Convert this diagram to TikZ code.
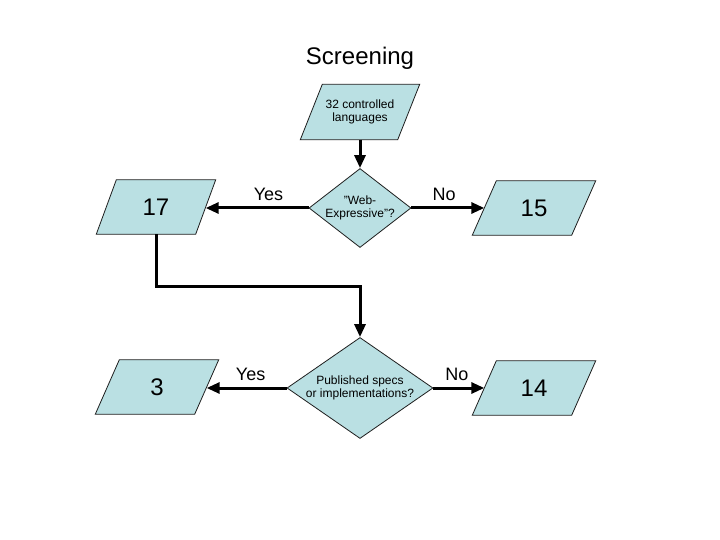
\documentclass[tikz,border=0pt]{standalone}
\usepackage{fontspec}
\setmainfont{Liberation Sans}
\usetikzlibrary{shapes.geometric,arrows.meta,backgrounds}
\definecolor{boxfill}{RGB}{186,224,227}
\definecolor{boxline}{RGB}{30,30,30}
\newcommand{\sq}{\symbol{34}}
\begin{document}
\begin{tikzpicture}[x=1pt,y=-1pt,
  para/.style={rectangle, minimum width=99pt, minimum height=54pt,
    inner sep=0pt, font=\fontsize{24}{28}\selectfont},
  smallpara/.style={para, minimum width=97pt, minimum height=55pt,
    align=center, font=\fontsize{12}{13.5}\selectfont},
  shapefill/.style={fill=boxfill, draw=boxline, line width=0.8pt, line join=miter},
  decision/.style={diamond, inner sep=0pt, shapefill, align=center,
    font=\fontsize{12}{13.5}\selectfont},
  arr/.style={line width=3pt, -{Triangle[length=13pt,width=11pt]}},
  answer/.style={above=6pt, inner sep=0pt, font=\fontsize{18}{21}\selectfont}
]
\useasboundingbox (0,0) rectangle (720,540);

\node[anchor=base, font=\fontsize{24}{28}\selectfont] (title) at (360,65) {Screening};

\node[smallpara] (n32) at (360,112) {32 controlled\\languages};
\node[decision, minimum width=102pt, minimum height=79pt, aspect=1.3] (d1) at (360,208) {\sq Web-\\Expressive\sq?};
\node[para] (n17) at (156,207) {17};
\node[para] (n15) at (534,208) {15};

\node[decision, minimum width=146pt, minimum height=101pt, aspect=1.45] (d2) at (360,388) {Published specs\\or implementations?};
\node[para] (n3) at (157,387) {3};
\node[para] (n14) at (534,388) {14};

\begin{scope}[on background layer]
  \foreach \n/\s in {n32/11, n17/10, n15/12, n3/12, n14/12} {
    \path[shapefill] ([xshift=-\s pt]\n.south west) -- ([xshift=-\s pt]\n.south east)
      -- ([xshift=\s pt]\n.north east) -- ([xshift=\s pt]\n.north west) -- cycle;
  }
\end{scope}

\draw[arr] (n32.south) -- (d1.north);
\draw[arr] (d1.west) -- node[answer, pos=0.39] {Yes} (n17.east |- d1.west);
\draw[arr] (d1.east) -- node[answer, pos=0.45] {No} (n15.west |- d1.east);
\draw[arr] (n17.south) -- ++(0,52) -| (d2.north);
\draw[arr] (d2.west) -- node[answer, pos=0.45] {Yes} (n3.east |- d2.west);
\draw[arr] (d2.east) -- node[answer, pos=0.46] {No} (n14.west |- d2.east);
\end{tikzpicture}
\end{document}
